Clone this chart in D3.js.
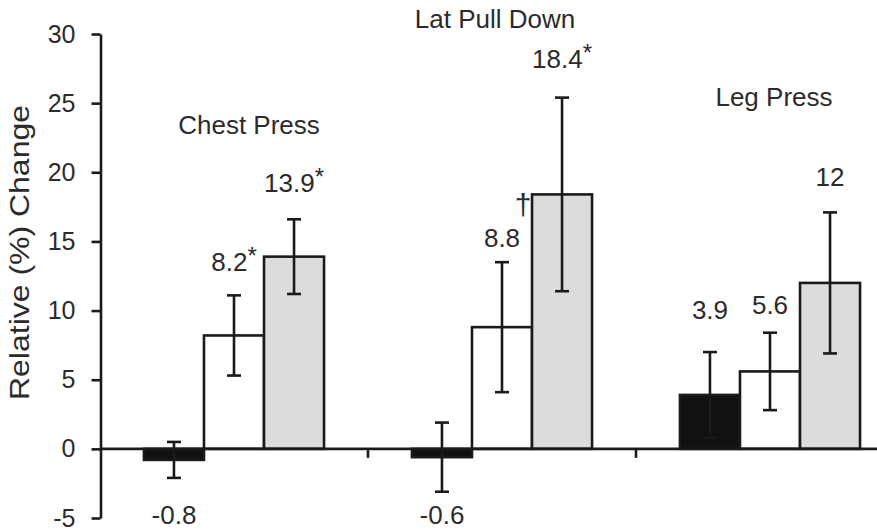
<!DOCTYPE html>
<html>
<head>
<meta charset="utf-8">
<script src="https://cdn.jsdelivr.net/npm/d3@7"></script>
<style>
  html, body { margin: 0; padding: 0; background: #fff; }
  svg { display: block; font-family: "Liberation Sans", Arial, Helvetica, sans-serif; }
</style>
</head>
<body>
<svg id="chart" width="877" height="531"></svg>
<script>
// ---------- data ----------
const categories = ["Chest Press", "Lat Pull Down", "Leg Press"];
const blackValues = [-0.8, -0.6, 3.9];
const whiteValues = [8.2, 8.8, 5.6];
const grayValues  = [13.9, 18.4, 12];
const blackErrors = [1.3, 2.5, 3.1];
const whiteErrors = [2.9, 4.7, 2.8];
const grayErrors  = [2.7, 7.0, 5.1];
const blackMarks = ["", "", ""];
const whiteMarks = ["*", "†", ""];
const grayMarks  = ["*", "*", ""];
const yTicks = [-5, 0, 5, 10, 15, 20, 25, 30];
const yTitle = "Relative (%) Change";

// ---------- layout ----------
const W = 877, H = 531;
const fills = ["#111111", "#ffffff", "#dcdcdc"];
const titleLevel = [22.8, 30.4, 24.8];          // category title baseline, in axis units
const titleShift = [15, -7, 4];                 // px from group centre
const labelGap = [[0, 24, 27], [0, 15, 30], [33, 19, 26]]; // px above error-bar top
const ink = "#1a1a1a", textInk = "#2b2b2b";
const sw = 2.6;

const svg = d3.select("#chart");
const y = d3.scaleLinear().domain([-5, 30]).range([518, 34]);
const x0 = d3.scaleBand().domain(categories).range([100, 904]).paddingInner(0.328).paddingOuter(0.164);
const x1 = d3.scaleBand().domain([0, 1, 2]).range([0, x0.bandwidth()]);

const valueSets = [blackValues, whiteValues, grayValues];
const errorSets = [blackErrors, whiteErrors, grayErrors];
const markSets = [blackMarks, whiteMarks, grayMarks];

const rows = [];
categories.forEach((c, ci) => {
  for (let s = 0; s < 3; s++) {
    rows.push({ cat: c, ci, s, v: valueSets[s][ci], e: errorSets[s][ci], mark: markSets[s][ci] });
  }
});

// y axis
const yAxis = d3.axisLeft(y).tickValues(yTicks).tickFormat(d => String(d))
  .tickSize(9).tickSizeOuter(0).tickPadding(16);
const ga = svg.append("g").attr("transform", "translate(100.5,0)").call(yAxis);
ga.select(".domain").attr("stroke", ink).attr("stroke-width", sw);
ga.selectAll(".tick line").attr("stroke", ink).attr("stroke-width", sw);
ga.selectAll(".tick text").attr("fill", textInk).attr("font-size", 25)
  .attr("font-family", "Liberation Sans, Arial, sans-serif");

// y title
svg.append("text")
  .attr("transform", `translate(29,${(105 + 400) / 2}) rotate(-90)`)
  .attr("text-anchor", "middle")
  .attr("font-size", 28)
  .attr("textLength", 295)
  .attr("lengthAdjust", "spacingAndGlyphs")
  .attr("fill", textInk)
  .text(yTitle);

// bars
const gBars = svg.append("g");
gBars.selectAll("rect").data(rows).join("rect")
  .attr("x", d => x0(d.cat) + x1(d.s))
  .attr("width", x1.bandwidth())
  .attr("y", d => y(Math.max(0, d.v)))
  .attr("height", d => Math.abs(y(d.v) - y(0)))
  .attr("fill", d => fills[d.s])
  .attr("stroke", ink)
  .attr("stroke-width", sw);

// zero line
svg.append("line")
  .attr("x1", 100).attr("x2", W)
  .attr("y1", y(0)).attr("y2", y(0))
  .attr("stroke", ink).attr("stroke-width", sw);

// group separator ticks
const step = x0.step();
categories.slice(0, -1).forEach(c => {
  const xs = x0(c) + x0.bandwidth() + (step - x0.bandwidth()) / 2;
  svg.append("line").attr("x1", xs).attr("x2", xs)
    .attr("y1", y(0)).attr("y2", y(0) + 9)
    .attr("stroke", ink).attr("stroke-width", sw);
});

// error bars
const capHalf = 7;
const gErr = svg.append("g").attr("stroke", ink).attr("stroke-width", sw);
rows.forEach(d => {
  const cx = x0(d.cat) + x1(d.s) + x1.bandwidth() / 2;
  const yt = y(d.v + d.e), yb = y(d.v - d.e);
  gErr.append("line").attr("x1", cx).attr("x2", cx).attr("y1", yt).attr("y2", yb);
  gErr.append("line").attr("x1", cx - capHalf).attr("x2", cx + capHalf).attr("y1", yt).attr("y2", yt);
  gErr.append("line").attr("x1", cx - capHalf).attr("x2", cx + capHalf).attr("y1", yb).attr("y2", yb);
});

// value labels
const gLab = svg.append("g").attr("font-size", 26).attr("fill", textInk);
rows.forEach(d => {
  const cx = x0(d.cat) + x1(d.s) + x1.bandwidth() / 2;
  if (d.v < 0) {
    gLab.append("text").attr("x", cx).attr("y", y(-5) + 6)
      .attr("text-anchor", "middle").text(String(d.v));
    return;
  }
  const by = y(d.v + d.e) - labelGap[d.ci][d.s];
  if (d.mark === "*") {
    const t = gLab.append("text").attr("x", cx).attr("y", by).attr("text-anchor", "middle");
    t.append("tspan").text(String(d.v));
    t.append("tspan").attr("font-size", 24).attr("dy", -7).text("*");
  } else {
    gLab.append("text").attr("x", cx).attr("y", by)
      .attr("text-anchor", "middle").text(String(d.v));
    if (d.mark === "†") {
      gLab.append("text").attr("x", cx + 21).attr("y", by - 32)
        .attr("text-anchor", "middle").attr("font-size", 30).text("†");
    }
  }
});

// category titles
svg.append("g").attr("font-size", 26).attr("fill", textInk)
  .selectAll("text").data(categories).join("text")
  .attr("x", (c, i) => x0(c) + x0.bandwidth() / 2 + titleShift[i])
  .attr("y", (c, i) => y(titleLevel[i]))
  .attr("text-anchor", "middle")
  .text(c => c);
</script>
</body>
</html>
